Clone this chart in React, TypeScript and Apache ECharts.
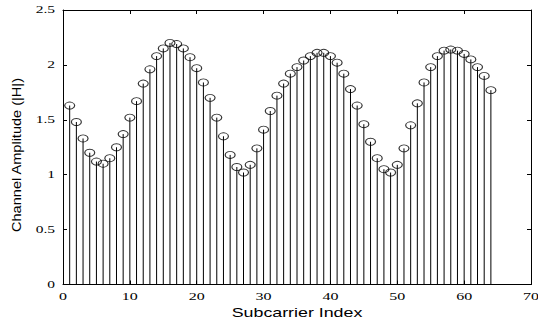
import React, { useEffect, useRef } from "react";
import * as echarts from "echarts";

const subcarrier = [
  1, 2, 3, 4, 5, 6, 7, 8, 9, 10, 11, 12, 13, 14, 15, 16,
  17, 18, 19, 20, 21, 22, 23, 24, 25, 26, 27, 28, 29, 30, 31, 32,
  33, 34, 35, 36, 37, 38, 39, 40, 41, 42, 43, 44, 45, 46, 47, 48,
  49, 50, 51, 52, 53, 54, 55, 56, 57, 58, 59, 60, 61, 62, 63, 64,
];

const amplitude = [
  1.63, 1.48, 1.33, 1.2, 1.12, 1.1, 1.15, 1.25, 1.37, 1.52, 1.67, 1.83, 1.96, 2.08, 2.15, 2.2,
  2.19, 2.15, 2.07, 1.97, 1.84, 1.7, 1.52, 1.35, 1.18, 1.07, 1.02, 1.09, 1.24, 1.41, 1.58, 1.72,
  1.83, 1.92, 1.98, 2.04, 2.08, 2.11, 2.11, 2.08, 2.02, 1.92, 1.78, 1.63, 1.46, 1.3, 1.15, 1.05,
  1.02, 1.09, 1.24, 1.45, 1.65, 1.84, 1.98, 2.08, 2.13, 2.14, 2.13, 2.1, 2.05, 1.98, 1.9, 1.77,
];

const xTicks = [0, 10, 20, 30, 40, 50, 60, 70];
const xTickLabels = ["0", "10", "20", "30", "40", "50", "60", "70"];
const yTicks = [0, 0.5, 1, 1.5, 2, 2.5];
const yTickLabels = ["0", "0.5", "1", "1.5", "2", "2.5"];

const xTitle = "Subcarrier Index";
const yTitle = "Channel Amplitude (|H|)";

const SERIF = '"Liberation Serif", "DejaVu Serif", serif';
const SANS = '"Liberation Sans", Arial, sans-serif';

export default function App() {
  const ref = useRef<HTMLDivElement>(null);

  useEffect(() => {
    if (!ref.current) return;
    const chart = echarts.init(ref.current, null, { renderer: "svg" });

    const axisCommon = {
      type: "value" as const,
      axisLine: { show: true, onZero: false, lineStyle: { color: "#000", width: 1 } },
      axisTick: { show: true, inside: true, length: 4, lineStyle: { color: "#000" } },
      axisLabel: { show: false },
      splitLine: { show: false },
    };

    const points = subcarrier.map((x, i) => [x, amplitude[i]]);

    chart.setOption({
      animation: false,
      backgroundColor: "#fff",
      grid: { left: 63, right: 7, top: 10, bottom: 40.5, containLabel: false },
      xAxis: [
        { ...axisCommon, position: "bottom", min: 0, max: 70, interval: 10 },
        { ...axisCommon, position: "top", min: 0, max: 70, interval: 10 },
      ],
      yAxis: [
        { ...axisCommon, position: "left", min: 0, max: 2.5, interval: 0.5 },
        { ...axisCommon, position: "right", min: 0, max: 2.5, interval: 0.5 },
      ],
      series: [
        {
          type: "custom",
          xAxisIndex: 0,
          yAxisIndex: 0,
          data: points,
          renderItem: (params: any, api: any) => {
            const x = api.value(0);
            const y = api.value(1);
            const p0 = api.coord([x, 0]);
            const p1 = api.coord([x, y]);
            return {
              type: "line",
              shape: { x1: p0[0], y1: p0[1], x2: p1[0], y2: p1[1] },
              style: { stroke: "#000", lineWidth: 1 },
            };
          },
          z: 2,
        },
        {
          type: "scatter",
          xAxisIndex: 0,
          yAxisIndex: 0,
          data: points,
          symbol: "circle",
          symbolSize: [10, 7],
          itemStyle: { color: "rgba(0,0,0,0)", borderColor: "#000", borderWidth: 1 },
          z: 3,
        },
      ],
    });

    const graphics: any[] = [];
    yTicks.forEach((v, i) => {
      const p = chart.convertToPixel({ xAxisIndex: 0, yAxisIndex: 0 }, [0, v]) as number[];
      graphics.push({
        type: "text",
        x: p[0] - 8,
        y: p[1],
        scaleX: 1.55,
        style: {
          text: yTickLabels[i],
          font: `10px ${SERIF}`,
          textAlign: "right",
          textVerticalAlign: "middle",
          align: "right",
          verticalAlign: "middle",
          fill: "#000",
        },
      });
    });
    xTicks.forEach((v, i) => {
      const p = chart.convertToPixel({ xAxisIndex: 0, yAxisIndex: 0 }, [v, 0]) as number[];
      graphics.push({
        type: "text",
        x: p[0],
        y: p[1] + 12,
        scaleX: 1.6,
        style: {
          text: xTickLabels[i],
          font: `10px ${SERIF}`,
          textAlign: "center",
          textVerticalAlign: "middle",
          align: "center",
          verticalAlign: "middle",
          fill: "#000",
        },
      });
    });
    graphics.push({
      type: "text",
      x: 297,
      y: 312,
      scaleX: 1.37,
      style: {
        text: xTitle,
        font: `13px ${SANS}`,
        textAlign: "center",
        textVerticalAlign: "middle",
        align: "center",
        verticalAlign: "middle",
        fill: "#000",
      },
    });
    graphics.push({
      type: "text",
      x: 17,
      y: 155,
      rotation: Math.PI / 2,
      scaleX: 1.12,
      style: {
        text: yTitle,
        font: `13px ${SANS}`,
        textAlign: "center",
        textVerticalAlign: "middle",
        align: "center",
        verticalAlign: "middle",
        fill: "#000",
      },
    });

    chart.setOption({ graphic: { elements: graphics } });

    return () => chart.dispose();
  }, []);

  return <div ref={ref} style={{ width: 538, height: 325, position: "absolute", left: 0, top: 0 }} />;
}
